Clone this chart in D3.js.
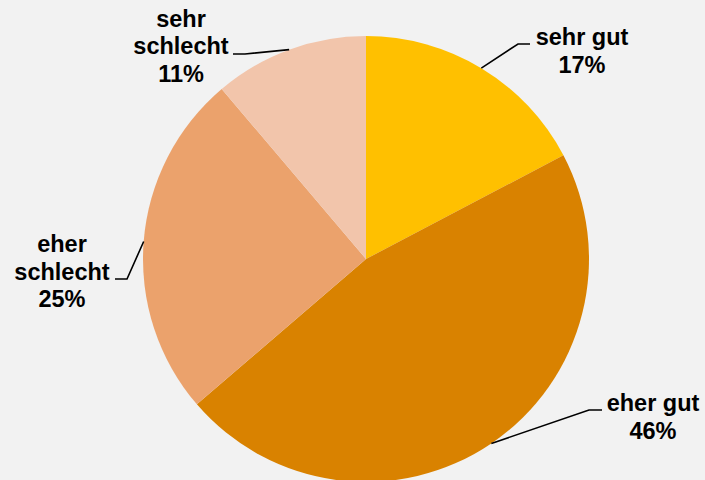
<!DOCTYPE html>
<html>
<head>
<meta charset="utf-8">
<script src="https://cdn.jsdelivr.net/npm/d3@7"></script>
<style>
  body { margin: 0; background: #f2f2f2; }
  svg { display: block; }
</style>
</head>
<body>
<div id="pie-chart"></div>
<script>
// slice data, clockwise from 12 o'clock
var categories = ["sehr gut", "eher gut", "eher schlecht", "sehr schlecht"];
var values = [17.3, 46.4, 25.1, 11.2];
var labelLines = [["sehr gut"], ["eher gut"], ["eher", "schlecht"], ["sehr", "schlecht"]];
var colors = ["#ffc000", "#d98200", "#eba26c", "#f2c5ab"];

var svgWidth = 705;
var svgHeight = 480;
var cx = 366, cy = 259, radius = 223;

// where the leader elbows and label blocks sit
var labelLayout = [
  { elbow: [518, 44], end: [530, 44], tx: 582, ty: 45 },
  { elbow: [589, 410], end: [602, 410], tx: 653, ty: 411 },
  { elbow: [127, 279], end: [115, 279], tx: 62, ty: 252 },
  { elbow: [245, 54], end: [233, 54], tx: 181, ty: 26.5 }
];

var svg = d3.select("#pie-chart")
  .append("svg")
  .attr("width", svgWidth)
  .attr("height", svgHeight);

svg.append("rect")
  .attr("width", svgWidth)
  .attr("height", svgHeight)
  .attr("fill", "#f2f2f2");

var pieData = values.map(function(v, i) {
  return { name: categories[i], value: v, lines: labelLines[i], color: colors[i], layout: labelLayout[i] };
});

var pie = d3.pie()
  .value(d => d.value)
  .sort(null);

var arc = d3.arc()
  .innerRadius(0)
  .outerRadius(radius);

var chartGroup = svg.append("g")
  .attr("transform", `translate(${cx}, ${cy})`);

var arcs = pie(pieData);

chartGroup.selectAll(".slice")
  .data(arcs)
  .enter()
  .append("path")
  .attr("class", "slice")
  .attr("d", arc)
  .attr("fill", d => d.data.color);

// leader lines from the arc edge midpoint
chartGroup.selectAll(".leader")
  .data(arcs)
  .enter()
  .append("polyline")
  .attr("class", "leader")
  .attr("fill", "none")
  .attr("stroke", "#000")
  .attr("stroke-width", 1.6)
  .attr("points", function(d) {
    var mid = (d.startAngle + d.endAngle) / 2;
    var px = Math.sin(mid) * radius;
    var py = -Math.cos(mid) * radius;
    var L = d.data.layout;
    return [[px, py], [L.elbow[0] - cx, L.elbow[1] - cy], [L.end[0] - cx, L.end[1] - cy]]
      .map(p => p.join(",")).join(" ");
  });

// labels
var lineHeight = 27.7;
svg.selectAll(".lbl")
  .data(arcs)
  .enter()
  .append("text")
  .attr("class", "lbl")
  .attr("text-anchor", "middle")
  .attr("font-family", "Liberation Sans, Arial, sans-serif")
  .attr("font-weight", "bold")
  .attr("font-size", "23.5px")
  .attr("fill", "#000")
  .each(function(d) {
    var t = d3.select(this);
    var L = d.data.layout;
    var lines = d.data.lines.concat([Math.round(d.data.value) + "%"]);
    lines.forEach(function(line, i) {
      t.append("tspan")
        .attr("x", L.tx)
        .attr("y", L.ty + i * lineHeight)
        .text(line);
    });
  });
</script>
</body>
</html>
